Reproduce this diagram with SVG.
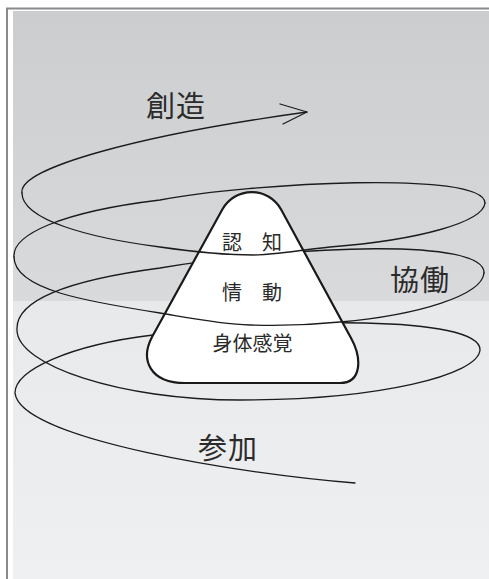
<svg xmlns="http://www.w3.org/2000/svg" width="489" height="579" viewBox="0 0 489 579">
<style>
.sp{fill:none;stroke:#1c1c1c;stroke-width:1.3;stroke-linejoin:round;stroke-linecap:round}
.big{font-family:"Noto Sans CJK JP","Noto Sans CJK SC",sans-serif;font-size:29px;letter-spacing:1px;fill:#2b2b2b}
.lab{font-family:"Noto Sans CJK JP","Noto Sans CJK SC",sans-serif;font-size:20px;fill:#2a2a2a;text-anchor:middle}
.pyr{fill:#ffffff;stroke:#1a1a1a;stroke-width:2.2;stroke-linejoin:round}
</style>
<defs>
<linearGradient id="bg" gradientUnits="userSpaceOnUse" x1="0" y1="11" x2="0" y2="579">
<stop offset="0" stop-color="#cccdcf"/>
<stop offset="0.51" stop-color="#d9dadc"/>
<stop offset="0.511" stop-color="#e8e9eb"/>
<stop offset="1" stop-color="#eff0f2"/>
</linearGradient>
</defs>
<rect x="0" y="0" width="489" height="579" fill="#ffffff"/>
<rect x="13" y="11" width="476" height="568" fill="url(#bg)"/>
<path d="M6 8.5 H489 M7 8 V579" fill="none" stroke="#8a8a8a" stroke-width="2"/>

<g id="connectors">
  <!-- lower spiral: front4, back4, front3, back3 -->
  <path class="sp" d="M355 483 C250 475, 20 440, 15 393 C15 370, 70 345, 153 335 C280 318, 481 315, 480 350 C478 375, 380 400, 240 400 C120 400, 17 365, 17 330 C15 300, 70 280, 160 268 C300 245, 485 238, 484 273"/>
  <!-- back2 -->
  <path class="sp" d="M14 257 C12 235, 60 212, 160 200 C250 183, 484 170, 485 203"/>
  <!-- back1 with arrow -->
  <path class="sp" d="M22 193 C18 168, 140 135, 307 112"/>
  <path class="sp" d="M280 104 L307 112 L283 124"/>
</g>

<g id="pyramid">
  <path class="pyr" d="M222.3 209.5 A33.5 33.5 0 0 1 281.1 209.5 L351 338 C362 358, 362 383, 340 383 L185 383 C150 383, 140 360, 152 337 Z"/>
</g>

<g id="connectors-front">
  <!-- front2 (divider 情動/身体感覚) -->
  <path class="sp" d="M484 273 C482 295, 420 315, 340 322 C310 325, 280 326, 250 325 C220 324, 190 318, 160 313 C90 302, 14 290, 14 257"/>
  <!-- front1 (divider 認知/情動) -->
  <path class="sp" d="M485 203 C483 222, 420 240, 330 247 C300 250, 275 255, 253 255 C225 255, 195 252, 160 247 C90 238, 22 220, 22 193"/>
</g>

<g id="label-ninchi"><text class="lab" x="252" y="250">認　知</text></g>
<g id="label-jodo"><text class="lab" x="252" y="300">情　動</text></g>
<g id="label-shintai"><text class="lab" x="252.5" y="351">身体感覚</text></g>

<g id="label-sozo"><text class="big" x="146" y="117">創造</text></g>
<g id="label-kyodo"><text class="big" x="390" y="291">協働</text></g>
<g id="label-sanka"><text class="big" x="198" y="459">参加</text></g>
</svg>
